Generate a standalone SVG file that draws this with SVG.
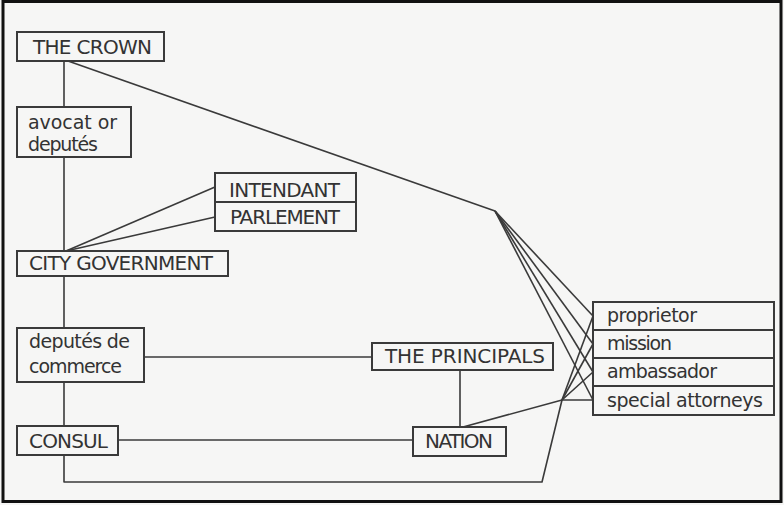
<svg xmlns="http://www.w3.org/2000/svg" width="784" height="505" viewBox="0 0 784 505">
<style>
.bg{fill:#f6f6f5}
.frame{fill:none;stroke:#111;stroke-width:3}
.box{fill:none;stroke:#3a3a3a;stroke-width:2}
.ln{fill:none;stroke:#3a3a3a;stroke-width:1.6;stroke-linejoin:round}
.cap{font-family:"DejaVu Sans","Liberation Sans",sans-serif;font-size:20px;fill:#333}
.low{font-family:"DejaVu Sans","Liberation Sans",sans-serif;font-size:19px;fill:#333}
</style>
<rect class="bg" x="0" y="0" width="784" height="505"/>
<g id="connectors">
  <polyline class="ln" points="64,61 64,107"/>
  <polyline class="ln" points="64,157 64,251"/>
  <polyline class="ln" points="64,276 64,328"/>
  <polyline class="ln" points="64,382 64,426"/>
  <polyline class="ln" points="64,455 64,482 542,482 562,400"/>
  <polyline class="ln" points="66,251 215,187"/>
  <polyline class="ln" points="66,251 215,217"/>
  <polyline class="ln" points="68,61 495,211"/>
  <polyline class="ln" points="495,211 593,316"/>
  <polyline class="ln" points="495,211 593,344"/>
  <polyline class="ln" points="495,211 593,372"/>
  <polyline class="ln" points="495,211 593,400"/>
  <polyline class="ln" points="144,357 372,357"/>
  <polyline class="ln" points="460,370 460,427"/>
  <polyline class="ln" points="118,440 413,440"/>
  <polyline class="ln" points="463,427 562,400 593,400"/>
  <polyline class="ln" points="562,400 593,316"/>
  <polyline class="ln" points="562,400 593,344"/>
  <polyline class="ln" points="562,400 593,372"/>
</g>
<g id="crown">
  <rect class="box" x="17" y="32" width="147" height="29"/>
  <text class="cap" x="33" y="54" textLength="119">THE CROWN</text>
</g>
<g id="avocat">
  <rect class="box" x="17" y="107" width="114" height="50"/>
  <text class="low" x="28" y="129" textLength="89">avocat or</text>
  <text class="low" x="28" y="151" textLength="70">deputés</text>
</g>
<g id="intendant-parlement">
  <rect class="box" x="215" y="173" width="141" height="58"/>
  <line class="box" x1="215" y1="202" x2="356" y2="202"/>
  <text class="cap" x="229" y="197" textLength="111">INTENDANT</text>
  <text class="cap" x="230" y="224" textLength="110">PARLEMENT</text>
</g>
<g id="city-government">
  <rect class="box" x="17" y="251" width="211" height="25"/>
  <text class="cap" x="29" y="270" textLength="184">CITY GOVERNMENT</text>
</g>
<g id="deputes-commerce">
  <rect class="box" x="17" y="328" width="127" height="54"/>
  <text class="low" x="29" y="348" textLength="101">deputés de</text>
  <text class="low" x="29" y="373" textLength="93">commerce</text>
</g>
<g id="consul">
  <rect class="box" x="17" y="426" width="101" height="29"/>
  <text class="cap" x="29" y="448" textLength="79">CONSUL</text>
</g>
<g id="principals">
  <rect class="box" x="372" y="343" width="181" height="27"/>
  <text class="cap" x="385" y="363" textLength="160">THE PRINCIPALS</text>
</g>
<g id="nation">
  <rect class="box" x="413" y="427" width="93" height="29"/>
  <text class="cap" x="425" y="448" textLength="68">NATION</text>
</g>
<g id="agents">
  <rect class="box" x="593" y="302" width="181" height="113"/>
  <line class="box" x1="593" y1="330" x2="774" y2="330"/>
  <line class="box" x1="593" y1="358" x2="774" y2="358"/>
  <line class="box" x1="593" y1="386" x2="774" y2="386"/>
  <text class="low" x="607" y="322" textLength="90">proprietor</text>
  <text class="low" x="607" y="350" textLength="65">mission</text>
  <text class="low" x="607" y="378" textLength="110">ambassador</text>
  <text class="low" x="607" y="407" textLength="156">special attorneys</text>
</g>
<rect class="frame" x="3" y="1.5" width="778" height="500"/>
</svg>
